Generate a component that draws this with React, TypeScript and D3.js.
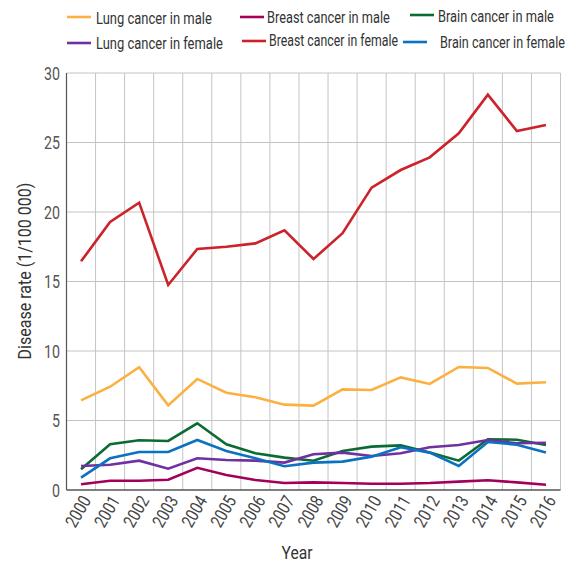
import React, { useLayoutEffect, useRef } from "react";
import * as d3 from "d3";

const years = ["2000","2001","2002","2003","2004","2005","2006","2007","2008","2009","2010","2011","2012","2013","2014","2015","2016"];
const lungMale = [6.45,7.43,8.83,6.09,7.99,7.0,6.67,6.14,6.07,7.24,7.19,8.1,7.63,8.85,8.78,7.65,7.75];
const lungFemale = [1.73,1.82,2.11,1.53,2.28,2.16,2.11,1.97,2.57,2.69,2.45,2.64,3.07,3.24,3.6,3.36,3.4];
const breastMale = [0.41,0.67,0.67,0.74,1.6,1.08,0.72,0.5,0.55,0.5,0.45,0.45,0.5,0.6,0.7,0.55,0.38];
const breastFemale = [16.45,19.28,20.67,14.75,17.34,17.5,17.74,18.68,16.62,18.47,21.75,23.02,23.93,25.66,28.44,25.83,26.26];
const brainMale = [1.49,3.29,3.58,3.53,4.8,3.29,2.64,2.33,2.11,2.8,3.12,3.21,2.69,2.11,3.65,3.62,3.24];
const brainFemale = [0.89,2.28,2.73,2.73,3.6,2.81,2.28,1.71,1.97,2.04,2.4,3.07,2.69,1.73,3.45,3.26,2.69];
const yTicks = [0,5,10,15,20,25,30];

const series = [
  { name: "Lung cancer in male", values: lungMale, color: "#fbb040", lx: 67, tx: 96, ly: 17, ty: 18, tw: 116 },
  { name: "Breast cancer in male", values: breastMale, color: "#a3005c", lx: 240, tx: 267, ly: 17, ty: 17, tw: 123 },
  { name: "Brain cancer in male", values: brainMale, color: "#0b6b35", lx: 410, tx: 438, ly: 15, ty: 16, tw: 116 },
  { name: "Lung cancer in female", values: lungFemale, color: "#7030a0", lx: 67, tx: 96, ly: 43, ty: 43, tw: 127 },
  { name: "Breast cancer in female", values: breastFemale, color: "#cc2229", lx: 242, tx: 269, ly: 41, ty: 40, tw: 129 },
  { name: "Brain cancer in female", values: brainFemale, color: "#0a72c0", lx: 403, tx: 440, ly: 42, ty: 42, tw: 125 },
];

const FONT = "Roboto, 'DejaVu Sans', sans-serif";

function FitText(props: { x: number; y: number; rotate?: number; width: number; anchor?: string; size: number; fill: string; dy?: string; children: string }) {
  const ref = useRef<SVGTextElement>(null);
  const { x, y, rotate = 0, width, anchor = "start", size, fill, dy = "0.36em", children } = props;
  useLayoutEffect(() => {
    const el = ref.current;
    if (!el) return;
    el.setAttribute("transform", `translate(${x},${y}) rotate(${rotate})`);
    const len = el.getComputedTextLength();
    const s = len > 0 ? width / len : 1;
    el.setAttribute("transform", `translate(${x},${y}) rotate(${rotate}) scale(${s},1)`);
  }, [x, y, rotate, width, children]);
  return (
    <text ref={ref} transform={`translate(${x},${y}) rotate(${rotate}) scale(0.8,1)`} textAnchor={anchor} dy={dy} fontSize={size} fill={fill}>{children}</text>
  );
}

export default function App() {
  const W = 576, H = 563;
  const left = 66.5, right = 560.5, top = 73, bottom = 490;
  const x = d3.scaleBand<string>().domain(years).range([left, right]);
  const cx = (yr: string) => (x(yr) as number) + x.bandwidth() / 2;
  const y = d3.scaleLinear().domain([0, 30]).range([bottom, top]);
  const line = d3.line<number>().x((_, i) => cx(years[i])).y(d => y(d));

  return (
    <svg width={W} height={H} style={{ position: "absolute", left: 0, top: 0, background: "#fff" }} fontFamily={FONT}>
      {yTicks.filter(t => t > 0).map(t => (
        <line key={"gy" + t} x1={left} x2={right} y1={y(t)} y2={y(t)} stroke="#c4c4c4" strokeWidth={1} />
      ))}
      {years.map(yr => (
        <line key={"gx" + yr} x1={(x(yr) as number) + x.bandwidth()} x2={(x(yr) as number) + x.bandwidth()} y1={top} y2={bottom} stroke="#c4c4c4" strokeWidth={1} />
      ))}
      <line x1={left} x2={left} y1={top} y2={bottom} stroke="#555" strokeWidth={1.2} />
      <line x1={left} x2={right} y1={bottom} y2={bottom} stroke="#555" strokeWidth={1.5} />
      {yTicks.map(t => (
        <FitText key={"yt" + t} x={60} y={y(t)} anchor="end" size={19} fill="#555" width={String(t).length * 8}>{String(t)}</FitText>
      ))}
      {years.map(yr => (
        <FitText key={"xt" + yr} x={cx(yr) + 5} y={bottom + 7} rotate={-60} anchor="end" size={18} fill="#444" width={33}>{yr}</FitText>
      ))}
      <FitText x={31} y={271} rotate={-90} anchor="middle" size={19} fill="#333" width={177} dy="0">Disease rate (1/100 000)</FitText>
      <FitText x={297} y={559} anchor="middle" size={19} fill="#333" width={31} dy="0">Year</FitText>
      {series.map(s => (
        <path key={s.name} d={line(s.values) as string} fill="none" stroke={s.color} strokeWidth={2.6} strokeLinejoin="miter" />
      ))}
      {series.map(s => (
        <g key={"lg" + s.name}>
          <line x1={s.lx} x2={s.lx + 24} y1={s.ly} y2={s.ly} stroke={s.color} strokeWidth={2.6} />
          <FitText x={s.tx} y={s.ty} size={16.5} fill="#333" width={s.tw}>{s.name}</FitText>
        </g>
      ))}
    </svg>
  );
}
